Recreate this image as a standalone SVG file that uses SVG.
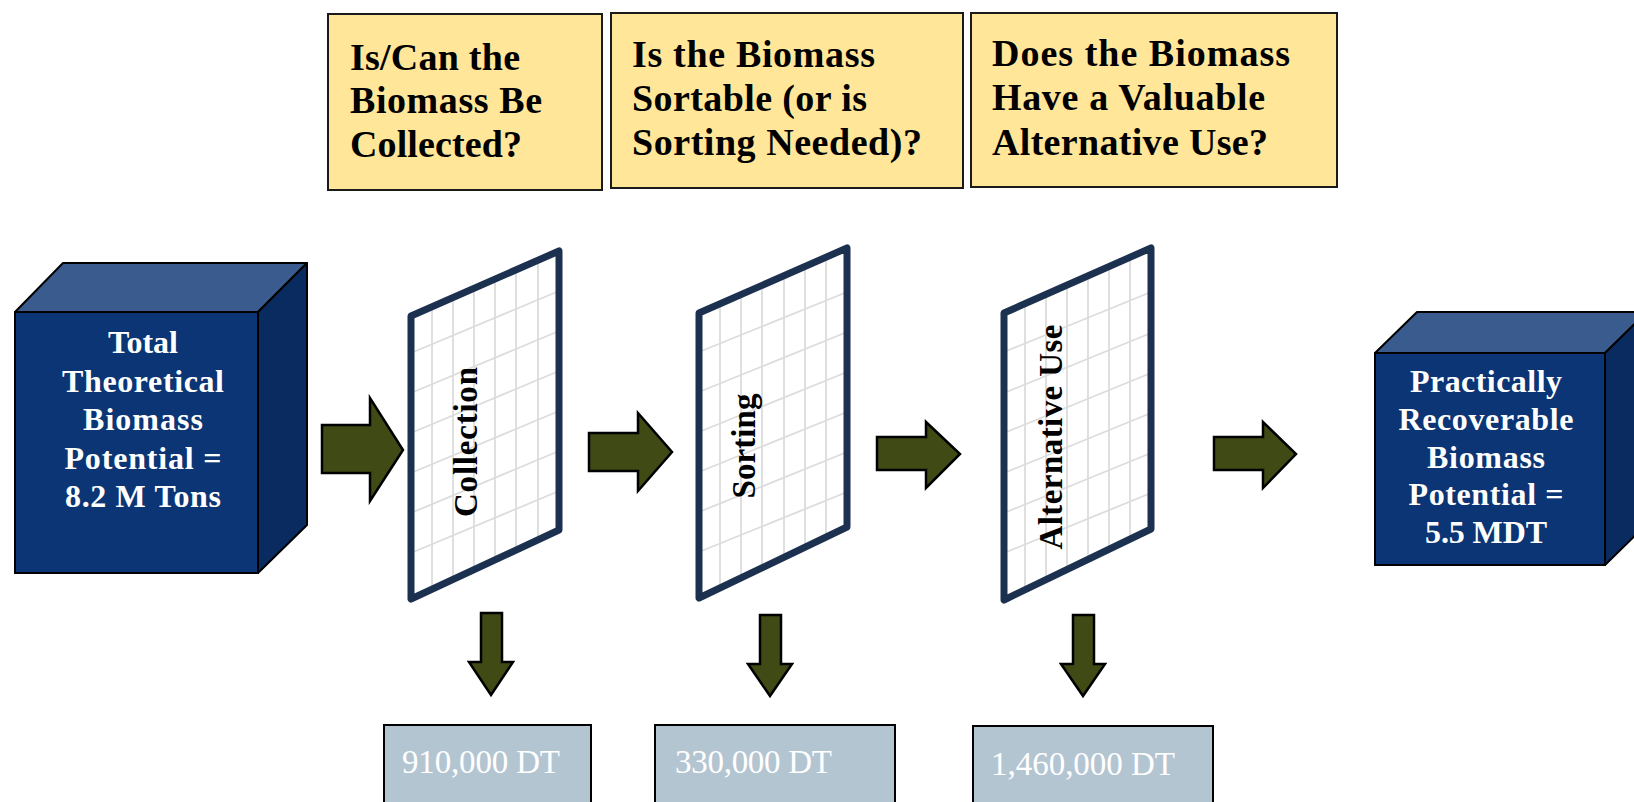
<svg xmlns="http://www.w3.org/2000/svg" width="1634" height="802" viewBox="0 0 1634 802">
<style>
.q{fill:#ffe699;stroke:#1a1a1a;stroke-width:2}
.qt{font-family:"Liberation Serif",serif;font-weight:bold;font-size:38px;fill:#000}
.front{fill:#0b3574;stroke:#000;stroke-width:2}
.top{fill:#3a5b8e;stroke:#000;stroke-width:2;stroke-linejoin:round}
.side{fill:#0a2b5f;stroke:#000;stroke-width:2;stroke-linejoin:round}
.ct{font-family:"Liberation Serif",serif;font-weight:bold;font-size:32px;fill:#fff;text-anchor:middle}
.pf{fill:#fff}
.grid{stroke:#dcdcdc;stroke-width:1.8}
.pb{fill:none;stroke:#1c3150;stroke-width:7;stroke-linejoin:round}
.pt{font-family:"Liberation Serif",serif;font-weight:bold;font-size:33px;fill:#000;text-anchor:middle}
.arr{fill:#3f4a14;stroke:#000;stroke-width:2.5;stroke-linejoin:miter}
.rb{fill:#b4c5d2;stroke:#000;stroke-width:2}
.rt{font-family:"Liberation Serif",serif;font-size:33px;fill:#fff}
</style>

<g id="q1">
<rect class="q" x="328" y="14" width="274" height="176"/>
<text class="qt" x="350" y="70" textLength="170" lengthAdjust="spacing">Is/Can the</text>
<text class="qt" x="350" y="113" textLength="192" lengthAdjust="spacing">Biomass Be</text>
<text class="qt" x="350" y="157" textLength="172" lengthAdjust="spacing">Collected?</text>
</g>
<g id="q2">
<rect class="q" x="611" y="13" width="352" height="175"/>
<text class="qt" x="632" y="67" textLength="243" lengthAdjust="spacing">Is the Biomass</text>
<text class="qt" x="632" y="111" textLength="235" lengthAdjust="spacing">Sortable (or is</text>
<text class="qt" x="632" y="155" textLength="290" lengthAdjust="spacing">Sorting Needed)?</text>
</g>
<g id="q3">
<rect class="q" x="971" y="13" width="366" height="174"/>
<text class="qt" x="992" y="66" textLength="298" lengthAdjust="spacing">Does the Biomass</text>
<text class="qt" x="992" y="110" textLength="273" lengthAdjust="spacing">Have a Valuable</text>
<text class="qt" x="992" y="155" textLength="276" lengthAdjust="spacing">Alternative Use?</text>
</g>

<g id="total">
<polygon class="top" points="15,312 63,263 307,263 258,312"/>
<polygon class="side" points="258,312 307,263 307,525 258,573"/>
<rect class="front" x="15" y="312" width="243" height="261"/>
<text class="ct" x="143" y="353" textLength="70" lengthAdjust="spacing">Total</text>
<text class="ct" x="143" y="391.5" textLength="162" lengthAdjust="spacing">Theoretical</text>
<text class="ct" x="143" y="430" textLength="120" lengthAdjust="spacing">Biomass</text>
<text class="ct" x="143" y="468.5" textLength="157" lengthAdjust="spacing">Potential =</text>
<text class="ct" x="143" y="507" textLength="156" lengthAdjust="spacing">8.2 M Tons</text>
</g>

<g id="practical">
<polygon class="top" points="1375,353 1417,312 1647,312 1605,353"/>
<polygon class="side" points="1605,353 1647,312 1647,524 1605,565"/>
<rect class="front" x="1375" y="353" width="230" height="212"/>
<text class="ct" x="1486" y="392" textLength="152" lengthAdjust="spacing">Practically</text>
<text class="ct" x="1486" y="430" textLength="175" lengthAdjust="spacing">Recoverable</text>
<text class="ct" x="1486" y="468" textLength="118" lengthAdjust="spacing">Biomass</text>
<text class="ct" x="1486" y="505" textLength="155" lengthAdjust="spacing">Potential =</text>
<text class="ct" x="1486" y="543" textLength="122" lengthAdjust="spacing">5.5 MDT</text>
</g>

<g id="collection">
<polygon class="pf" points="411,316 559,251 559,530 411,599"/>
<g class="grid">
<line x1="432" y1="306" x2="432" y2="590"/>
<line x1="453" y1="297" x2="453" y2="580"/>
<line x1="474" y1="288" x2="474" y2="570"/>
<line x1="495" y1="279" x2="495" y2="560"/>
<line x1="516" y1="270" x2="516" y2="550"/>
<line x1="538" y1="260" x2="538" y2="540"/>
<line x1="411" y1="353" x2="559" y2="291"/>
<line x1="411" y1="393" x2="559" y2="331"/>
<line x1="411" y1="433" x2="559" y2="371"/>
<line x1="411" y1="473" x2="559" y2="411"/>
<line x1="411" y1="513" x2="559" y2="451"/>
<line x1="411" y1="553" x2="559" y2="491"/>
</g>
<polygon class="pb" points="411,316 559,251 559,530 411,599"/>
<text class="pt" transform="translate(477,442) rotate(-90)" textLength="150" lengthAdjust="spacing">Collection</text>
</g>

<g id="sorting">
<polygon class="pf" points="699,313 847,248 847,527 699,598"/>
<g class="grid">
<line x1="720" y1="304" x2="720" y2="588"/>
<line x1="741" y1="295" x2="741" y2="578"/>
<line x1="762" y1="286" x2="762" y2="568"/>
<line x1="784" y1="276" x2="784" y2="558"/>
<line x1="805" y1="267" x2="805" y2="548"/>
<line x1="826" y1="258" x2="826" y2="538"/>
<line x1="699" y1="352" x2="847" y2="292"/>
<line x1="699" y1="392" x2="847" y2="332"/>
<line x1="699" y1="432" x2="847" y2="372"/>
<line x1="699" y1="472" x2="847" y2="412"/>
<line x1="699" y1="512" x2="847" y2="452"/>
<line x1="699" y1="552" x2="847" y2="492"/>
</g>
<polygon class="pb" points="699,313 847,248 847,527 699,598"/>
<text class="pt" transform="translate(755,446) rotate(-90)" textLength="105" lengthAdjust="spacing">Sorting</text>
</g>

<g id="alternative">
<polygon class="pf" points="1004,313 1151,248 1151,529 1004,600"/>
<g class="grid">
<line x1="1025" y1="304" x2="1025" y2="590"/>
<line x1="1046" y1="295" x2="1046" y2="580"/>
<line x1="1067" y1="286" x2="1067" y2="570"/>
<line x1="1088" y1="276" x2="1088" y2="560"/>
<line x1="1109" y1="267" x2="1109" y2="550"/>
<line x1="1130" y1="258" x2="1130" y2="540"/>
<line x1="1004" y1="352" x2="1151" y2="292"/>
<line x1="1004" y1="393" x2="1151" y2="333"/>
<line x1="1004" y1="433" x2="1151" y2="373"/>
<line x1="1004" y1="473" x2="1151" y2="413"/>
<line x1="1004" y1="513" x2="1151" y2="453"/>
<line x1="1004" y1="553" x2="1151" y2="493"/>
</g>
<polygon class="pb" points="1004,313 1151,248 1151,529 1004,600"/>
<text class="pt" transform="translate(1062,437) rotate(-90)" textLength="225" lengthAdjust="spacing">Alternative Use</text>
</g>

<g id="r1">
<rect class="rb" x="384" y="725" width="207" height="90"/>
<text class="rt" x="402" y="773" textLength="158" lengthAdjust="spacing">910,000 DT</text>
</g>
<g id="r2">
<rect class="rb" x="655" y="725" width="240" height="90"/>
<text class="rt" x="675" y="773" textLength="157" lengthAdjust="spacing">330,000 DT</text>
</g>
<g id="r3">
<rect class="rb" x="973" y="726" width="240" height="90"/>
<text class="rt" x="991" y="775" textLength="184" lengthAdjust="spacing">1,460,000 DT</text>
</g>

<g id="connectors">
<polygon class="arr" points="322,425 370,425 370,398 403,450 370,501 370,473 322,473"/>
<polygon class="arr" points="589,433 638,433 638,413 672,452 638,491 638,471 589,471"/>
<polygon class="arr" points="877,437 926,437 926,422 960,454 926,488 926,470 877,470"/>
<polygon class="arr" points="1214,437 1263,437 1263,422 1296,454 1263,488 1263,470 1214,470"/>
<polygon class="arr" points="481,613 502,613 502,662 513,662 491,695 469,662 481,662"/>
<polygon class="arr" points="760,615 781,615 781,664 792,664 770,696 748,664 760,664"/>
<polygon class="arr" points="1073,615 1094,615 1094,664 1105,664 1083,696 1061,664 1073,664"/>
</g>
</svg>
